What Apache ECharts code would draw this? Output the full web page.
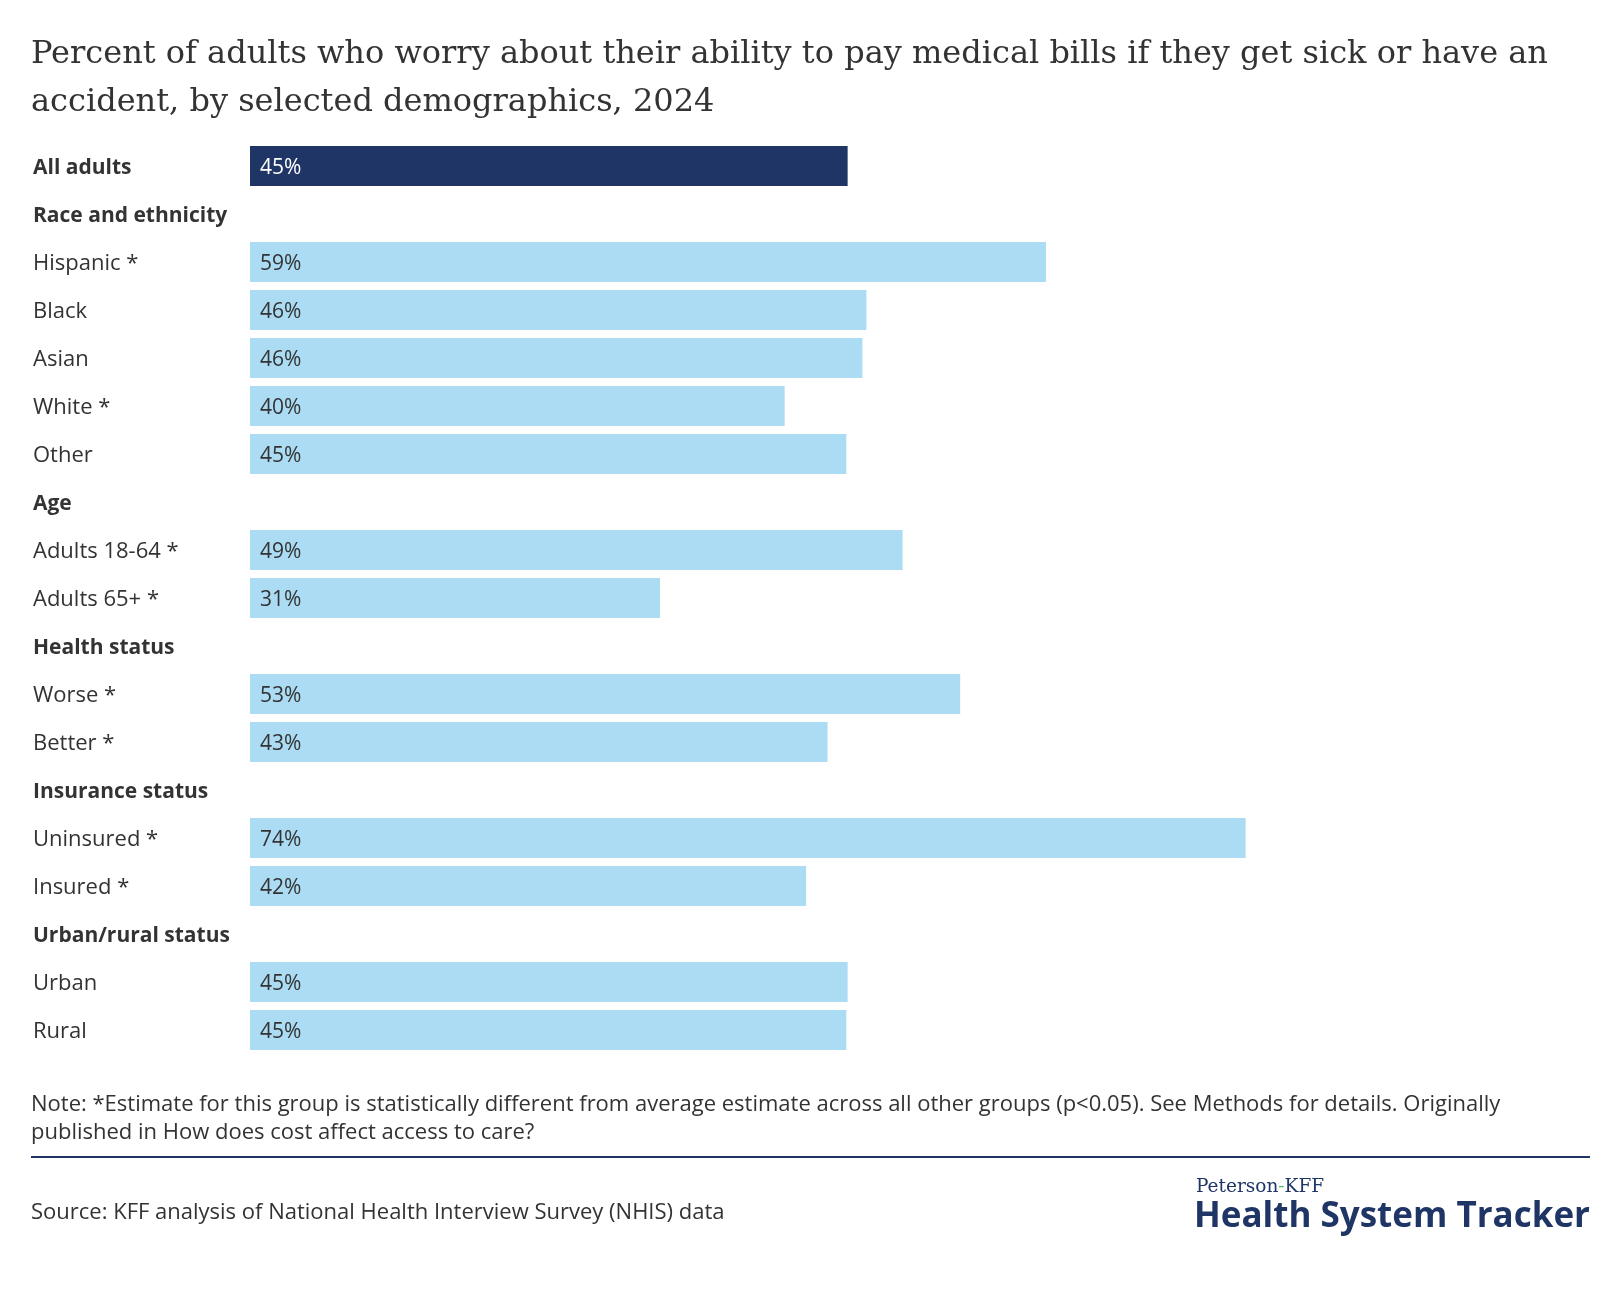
<!DOCTYPE html>
<html>
<head>
<meta charset="utf-8">
<script src="https://cdn.jsdelivr.net/npm/echarts@6/dist/echarts.min.js"></script>
<style>
html,body{margin:0;padding:0;background:#fff;}
#chart{width:1620px;height:1294px;}
</style>
</head>
<body>
<div id="chart"></div>
<script>
const categories = ["All adults","Race and ethnicity","Hispanic *","Black","Asian","White *","Other","Age","Adults 18-64 *","Adults 65+ *","Health status","Worse *","Better *","Insurance status","Uninsured *","Insured *","Urban/rural status","Urban","Rural"];
const headers = ["All adults","Race and ethnicity","Age","Health status","Insurance status","Urban/rural status"];
const values = [44.6,null,59.4,46.0,45.7,39.9,44.5,null,48.7,30.6,null,53.0,43.1,null,74.3,41.5,null,44.6,44.5];

const titleText = "Percent of adults who worry about their ability to pay medical bills if they get sick or have an\naccident, by selected demographics, 2024";
const noteText = "Note: *Estimate for this group is statistically different from average estimate across all other groups (p<0.05). See Methods for details. Originally\npublished in How does cost affect access to care?";
const sourceText = "Source: KFF analysis of National Health Interview Survey (NHIS) data";

const DARK = "#1f3566";
const LIGHT = "#abdcf4";
const TEXT = "#333333";
const SANS = "'Open Sans', Lato, sans-serif";

const chart = echarts.init(document.getElementById('chart'), null, {renderer:'canvas'});

const barData = values.map((v,i) => {
  if (v === null) return {value: null};
  if (i === 0) return {value: v, itemStyle:{color: DARK}, label:{color:'#ffffff'}};
  return {value: v};
});

chart.setOption({
  animation: false,
  backgroundColor: '#ffffff',
  title: {
    text: titleText,
    left: 31,
    top: 31,
    padding: 0,
    textStyle: {
      fontFamily: "'DejaVu Serif', serif",
      fontSize: 32,
      fontWeight: 'normal',
      color: TEXT,
      lineHeight: 48
    }
  },
  grid: {left: 250, right: 30, top: 142, height: 912, containLabel: false},
  xAxis: {type:'value', min:0, max:100, show:false},
  yAxis: {
    type:'category',
    inverse:true,
    data: categories,
    axisLine:{show:false},
    axisTick:{show:false},
    splitLine:{show:false},
    axisLabel:{
      align:'left',
      margin:217,
      formatter: function(v){
        return headers.indexOf(v) >= 0 ? '{b|' + v + '}' : '{n|' + v + '}';
      },
      rich:{
        b:{fontFamily:SANS, fontSize:21, fontWeight:'bold', color:TEXT, padding:[4,0,0,0]},
        n:{fontFamily:SANS, fontSize:22, fontWeight:'normal', color:TEXT, padding:[4,0,0,0]}
      }
    }
  },
  series:[{
    type:'bar',
    data: barData,
    barWidth: 40,
    itemStyle:{color: LIGHT},
    label:{
      show:true,
      position:'insideLeft',
      distance:10,
      offset:[0,2],
      fontFamily:SANS,
      fontSize:21,
      color:TEXT,
      formatter: function(p){ return p.value == null ? '' : Math.round(p.value) + '%'; }
    }
  }],
  graphic:[
    {type:'text', left:31, top:1091, style:{text:noteText, fontFamily:SANS, fontSize:22, lineHeight:28, fill:TEXT}},
    {type:'line', shape:{x1:31, y1:1157, x2:1590, y2:1157}, style:{stroke:DARK, lineWidth:2}},
    {type:'text', x:31, y:1213, style:{text:sourceText, fontFamily:SANS, fontSize:22, fill:TEXT, verticalAlign:'middle'}},
    {type:'text', x:1196, y:1187, style:{
      text:'{a|Peterson}{g|-}{a|KFF}', verticalAlign:'middle',
      rich:{
        a:{fontFamily:"'DejaVu Serif', serif", fontSize:18.5, fill:DARK},
        g:{fontFamily:"'DejaVu Serif', serif", fontSize:18.5, fill:'#5fb760'}
      }
    }},
    {type:'text', x:1590, y:1217, style:{text:'Health System Tracker', fontFamily:SANS, fontSize:35, fontWeight:'bold', fill:DARK, align:'right', verticalAlign:'middle'}}
  ]
});
</script>
</body>
</html>
